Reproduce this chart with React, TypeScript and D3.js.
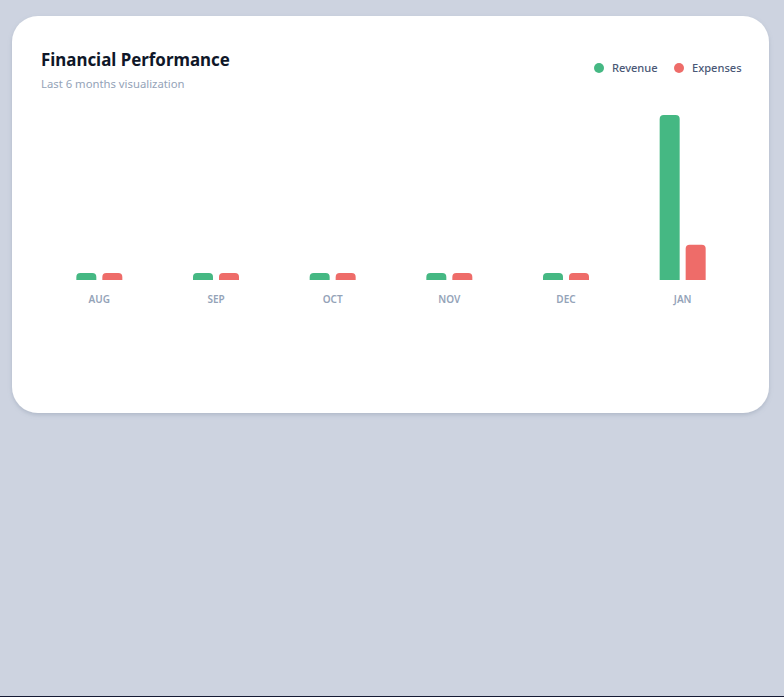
import React from "react";
import * as d3 from "d3";

const months = ["AUG", "SEP", "OCT", "NOV", "DEC", "JAN"];
const revenue = [530, 530, 530, 530, 530, 12400];
const expenses = [530, 530, 530, 530, 530, 2650];
const seriesNames = ["Revenue", "Expenses"];
const seriesColors = ["#45b883", "#ee6c69"];

const W = 784;
const H = 697;
const card = { x: 12, y: 16, w: 757, h: 397, r: 26 };
const plot = { left: 41, right: 741, top: 115, bottom: 280 };
const font = "'Segoe UI', 'Noto Sans', sans-serif";

// rounded top corners only
const barPath = (x: number, y: number, w: number, h: number, r: number) => {
  const rr = Math.min(r, h, w / 2);
  return `M${x},${y + h}V${y + rr}Q${x},${y} ${x + rr},${y}H${x + w - rr}Q${x + w},${y} ${x + w},${y + rr}V${y + h}Z`;
};

const App = () => {
  const x0 = d3.scaleBand<string>().domain(months).range([plot.left, plot.right]);
  const x1 = d3.scaleBand<string>().domain(seriesNames).range([0, 46]).paddingInner(6 / 26);
  const y = d3
    .scaleLinear()
    .domain([0, d3.max(revenue.concat(expenses)) as number])
    .range([plot.bottom, plot.top]);

  const rows = months.map((m, i) => ({ m, vals: [revenue[i], expenses[i]] }));

  return (
    <div style={{ position: "fixed", left: 0, top: 0, width: W, height: H }}>
      <svg width={W} height={H} style={{ display: "block" }}>
        <defs>
          <filter id="shadow" x="-10%" y="-10%" width="120%" height="130%">
            <feDropShadow dx="0" dy="2" stdDeviation="2" floodColor="#7a879e" floodOpacity="0.35" />
          </filter>
        </defs>
        <rect x={0} y={0} width={W} height={H} fill="#151a33" />
        <rect x={0} y={0} width={W} height={696} fill="#cdd3e0" />
        <rect
          x={card.x}
          y={card.y}
          width={card.w}
          height={card.h}
          rx={card.r}
          fill="#ffffff"
          filter="url(#shadow)"
        />
        <text x={41} y={66} fontFamily={font} fontSize={16.9} fontWeight={700} fill="#0f1729">
          Financial Performance
        </text>
        <text x={41} y={88} fontFamily={font} fontSize={11.3} fill="#94a3b8">
          Last 6 months visualization
        </text>

        {/* legend */}
        <g fontFamily={font} fontSize={11.1} fontWeight={500} fill="#4a5876">
          <circle cx={599} cy={68} r={5} fill={seriesColors[0]} />
          <text x={612} y={72}>{seriesNames[0]}</text>
          <circle cx={679} cy={68} r={5} fill={seriesColors[1]} />
          <text x={692} y={72}>{seriesNames[1]}</text>
        </g>

        {rows.map((row) => {
          const cx = (x0(row.m) as number) + x0.bandwidth() / 2;
          return (
            <g key={row.m} transform={`translate(${cx - 23},0)`}>
              {row.vals.map((v, j) => (
                <path
                  key={j}
                  d={barPath(x1(seriesNames[j]) as number, y(v), x1.bandwidth(), plot.bottom - y(v), 4)}
                  fill={seriesColors[j]}
                />
              ))}
              <text
                x={23}
                y={303}
                textAnchor="middle"
                fontFamily={font}
                fontSize={10}
                fontWeight={600}
                fill="#94a3b8"
              >
                {row.m}
              </text>
            </g>
          );
        })}
      </svg>
    </div>
  );
};

export default App;
